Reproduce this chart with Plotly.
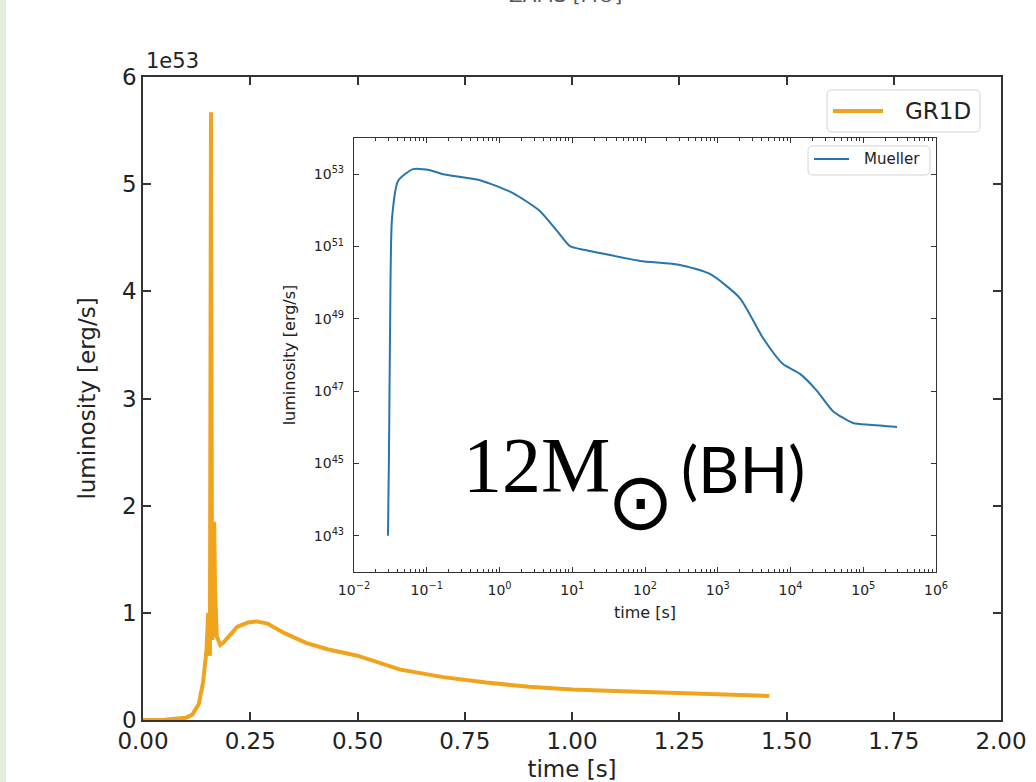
import plotly.graph_objects as go

# ---- main panel data: GR1D luminosity (units of 1e53 erg/s) vs time [s]
gr1d_time = [0.0, 0.05, 0.10, 0.115, 0.13, 0.14, 0.148, 0.152, 0.154, 0.156, 0.1585,
             0.161, 0.163, 0.166, 0.168, 0.172, 0.18, 0.187, 0.20, 0.22, 0.245, 0.265,
             0.29, 0.33, 0.38, 0.43, 0.50, 0.60, 0.70, 0.80, 0.90, 1.00, 1.10, 1.20,
             1.30, 1.40, 1.46]
gr1d_lum = [0.0, 0.003, 0.02, 0.05, 0.15, 0.35, 0.65, 1.0, 0.65, 0.6, 5.67,
            0.75, 0.8, 1.85, 1.2, 0.78, 0.70, 0.72, 0.78, 0.87, 0.91, 0.92,
            0.90, 0.81, 0.72, 0.66, 0.60, 0.47, 0.40, 0.35, 0.31, 0.285, 0.27, 0.26,
            0.245, 0.235, 0.225]

# ---- inset data: Mueller luminosity [erg/s] vs time [s]
mueller_time = [0.0293, 0.0303, 0.0313, 0.0333, 0.0403, 0.0647, 0.111, 0.167, 0.540,
                1.53, 3.61, 6.17, 9.31, 12.8, 24.0, 85.3, 303, 782, 2023, 4188,
                7889, 13520, 23120, 38370, 72270, 123900, 291100]
mueller_lum = [1.0e43, 2.2e45, 4.6e48, 6.0e51, 6.5e52, 1.38e53, 1.29e53, 1.0e53, 6.8e52,
               3.0e52, 9.5e51, 2.7e51, 1.02e51, 8.5e50, 6.6e50, 4.0e50, 3.1e50, 1.74e50,
               3.7e49, 2.95e48, 5.6e47, 3.0e47, 1.02e47, 2.8e46, 1.32e46, 1.17e46, 1.02e46]

main_xticks = [0.0, 0.25, 0.5, 0.75, 1.0, 1.25, 1.5, 1.75, 2.0]
main_xticklabels = ["0.00", "0.25", "0.50", "0.75", "1.00", "1.25", "1.50", "1.75", "2.00"]
main_yticks = [0, 1, 2, 3, 4, 5, 6]
main_yticklabels = ["0", "1", "2", "3", "4", "5", "6"]

inset_xexp = [-2, -1, 0, 1, 2, 3, 4, 5, 6]
inset_yexp = [43, 45, 47, 49, 51, 53]

series_names = ["GR1D", "Mueller"]
series_colors = ["#F0A31C", "#2775AE"]

W, H = 1036, 782


def px(x):
    return x / W


def py(y):
    return 1 - y / H


fig = go.Figure()

fig.add_trace(go.Scatter(
    x=gr1d_time, y=gr1d_lum, mode="lines", name=series_names[0],
    line=dict(color=series_colors[0], width=4), xaxis="x", yaxis="y", showlegend=False))

fig.add_trace(go.Scatter(
    x=mueller_time, y=mueller_lum, mode="lines", name=series_names[1],
    line=dict(color=series_colors[1], width=2, shape="spline", smoothing=0.6),
    xaxis="x2", yaxis="y2", showlegend=False))

axis_color = "#333333"
main_font = dict(family="DejaVu Sans", size=23, color="#222222")
inset_tick_font = dict(family="DejaVu Sans", size=14, color="#222222")
inset_title_font = dict(family="DejaVu Sans", size=16, color="#222222")

inset_minor = [m * 10.0 ** e for e in range(-2, 6) for m in range(2, 10)]

fig.update_layout(
    width=W, height=H,
    margin=dict(l=0, r=0, t=0, b=0, pad=0, autoexpand=False),
    paper_bgcolor="white", plot_bgcolor="white",
    showlegend=False,
    xaxis=dict(
        domain=[px(143), px(1001)], range=[0, 2], anchor="y", automargin=False,
        tickmode="array", tickvals=main_xticks, ticktext=main_xticklabels,
        ticks="inside", ticklen=8, tickwidth=1.5, tickcolor=axis_color,
        showline=True, linecolor=axis_color, linewidth=1.5, mirror="ticks",
        showgrid=False, zeroline=False, tickfont=main_font,
        title=dict(text="time [s]", font=main_font, standoff=14)),
    yaxis=dict(
        domain=[py(720), py(77)], range=[0, 6], anchor="x", automargin=False,
        tickmode="array", tickvals=main_yticks, ticktext=main_yticklabels,
        ticks="inside", ticklen=8, tickwidth=1.5, tickcolor=axis_color,
        showline=True, linecolor=axis_color, linewidth=1.5, mirror="ticks",
        showgrid=False, zeroline=False, tickfont=main_font,
        title=dict(text="luminosity [erg/s]", font=main_font, standoff=20)),
    xaxis2=dict(
        domain=[px(354), px(936)], type="log", range=[-2, 6], anchor="y2", automargin=False,
        tickmode="array", tickvals=[10.0 ** e for e in inset_xexp],
        ticktext=["10<sup>%s</sup>" % str(e).replace("-", "\u2212") for e in inset_xexp],
        ticks="inside", ticklen=5, tickwidth=1, tickcolor=axis_color,
        minor=dict(tickmode="array", tickvals=inset_minor, ticks="inside",
                   ticklen=3, tickwidth=1, tickcolor=axis_color),
        showline=True, linecolor=axis_color, linewidth=1.2, mirror="ticks",
        showgrid=False, zeroline=False, tickfont=inset_tick_font, ticklabelstandoff=5,
        title=dict(text="time [s]", font=inset_title_font, standoff=9)),
    yaxis2=dict(
        domain=[py(572), py(138)], type="log", range=[42, 54], anchor="x2", automargin=False,
        tickmode="array", tickvals=[10.0 ** e for e in inset_yexp],
        ticktext=["10<sup>%d</sup>" % e for e in inset_yexp],
        ticks="inside", ticklen=5, tickwidth=1, tickcolor=axis_color,
        showline=True, linecolor=axis_color, linewidth=1.2, mirror="ticks",
        showgrid=False, zeroline=False, tickfont=inset_tick_font, ticklabelstandoff=6,
        title=dict(text="luminosity [erg/s]", font=inset_title_font, standoff=14)),
)

# inset white backing (the inset sits over the main panel)
fig.add_shape(type="rect", xref="paper", yref="paper",
              x0=px(354), x1=px(936), y0=py(572), y1=py(138),
              fillcolor="white", line=dict(width=0), layer="below")

# faint green strip at the left edge
fig.add_shape(type="rect", xref="paper", yref="paper",
              x0=0, x1=px(6), y0=0, y1=1,
              fillcolor="#E3EFDB", line=dict(width=0), layer="below")


def rounded_box(x0, y0, x1, y1, r):
    rx, ry = r / W, r / H
    X0, X1 = px(x0), px(x1)
    Y0, Y1 = py(y1), py(y0)  # bottom, top in paper coords
    return (f"M {X0+rx},{Y0} L {X1-rx},{Y0} Q {X1},{Y0} {X1},{Y0+ry} "
            f"L {X1},{Y1-ry} Q {X1},{Y1} {X1-rx},{Y1} L {X0+rx},{Y1} "
            f"Q {X0},{Y1} {X0},{Y1-ry} L {X0},{Y0+ry} Q {X0},{Y0} {X0+rx},{Y0} Z")


# legend boxes, drawn as in the matplotlib original
legend_specs = [
    # box (x0, y0, x1, y1), line (x0, x1, y), text x, font size, line width
    dict(box=(827, 90, 980, 132), line=(833, 883, 111), tx=903, fs=23, lw=4),
    dict(box=(808, 146, 930, 175), line=(814, 849, 159), tx=862, fs=15, lw=2),
]
for spec, name, color in zip(legend_specs, series_names, series_colors):
    bx0, by0, bx1, by1 = spec["box"]
    fig.add_shape(type="path", xref="paper", yref="paper",
                  path=rounded_box(bx0, by0, bx1, by1, 5),
                  fillcolor="rgba(255,255,255,0.9)", line=dict(color="#D4D4D4", width=1))
    lx0, lx1, ly = spec["line"]
    fig.add_shape(type="line", xref="paper", yref="paper",
                  x0=px(lx0), x1=px(lx1), y0=py(ly), y1=py(ly),
                  line=dict(color=color, width=spec["lw"]))
    fig.add_annotation(xref="paper", yref="paper", showarrow=False,
                       text=name, x=px(spec["tx"]), y=py(ly), xanchor="left", yanchor="middle",
                       font=dict(family="DejaVu Sans", size=spec["fs"], color="#222222"))

annotations = [
    dict(text="1e53", x=px(144), y=py(61), xanchor="left", yanchor="middle",
         font=dict(family="DejaVu Sans", size=21, color="#222222")),
    dict(text="ZAMS [M\u2299]", x=px(565), y=py(9), xanchor="center", yanchor="bottom",
         font=dict(family="DejaVu Sans", size=20, color="#555555")),
    dict(text="12M", x=px(461), y=py(465), xanchor="left", yanchor="middle",
         font=dict(family="Liberation Serif", size=78, color="black")),
    dict(text="\u2299", x=px(640), y=py(502), xanchor="center", yanchor="middle",
         font=dict(family="DejaVu Sans", size=80, color="black")),
    dict(text="(BH)", x=px(679), y=py(468), xanchor="left", yanchor="middle",
         font=dict(family="Lato", size=64, color="black")),
]
for a in annotations:
    fig.add_annotation(xref="paper", yref="paper", showarrow=False, **a)

fig.write_html("out.html", config={"displayModeBar": False},
               post_script="document.body.style.margin='0';")
